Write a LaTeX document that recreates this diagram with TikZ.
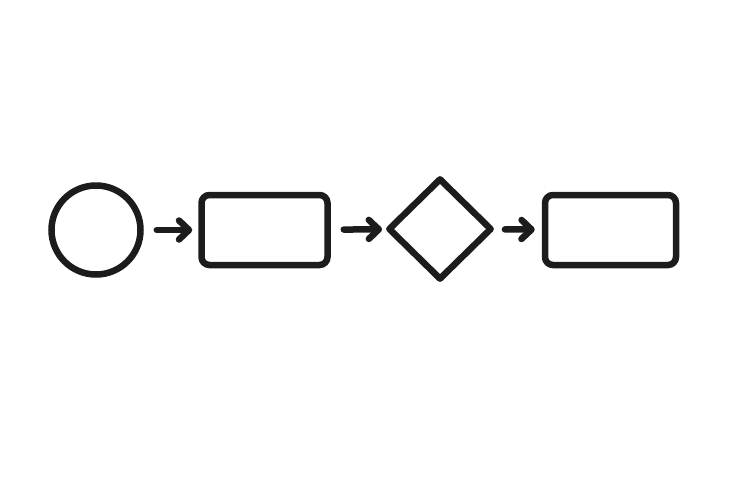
\documentclass[tikz,border=0pt]{standalone}
\usepackage{tikz}
\usetikzlibrary{arrows.meta,positioning,shapes.geometric}
\definecolor{flowink}{RGB}{28,28,28}

\tikzset{
  flowshape/.style={draw=flowink, line width=6.5pt, inner sep=0pt},
  startcircle/.style={flowshape, circle, minimum size=89pt},
  procbox/.style={flowshape, rectangle, rounded corners=8pt, minimum height=70pt},
  decisionbox/.style={flowshape, diamond, line join=round, minimum width=104pt, minimum height=102pt},
  flowarrow/.style={draw=flowink, line width=6.5pt, line cap=round,
    -{Straight Barb[length=10pt, width=19pt, round]}}
}

\begin{document}
\begin{tikzpicture}[x=1pt, y=-1pt]
\useasboundingbox (0,0) rectangle (735,490);
\node[startcircle] (start) at (96,230) {};
\node[procbox, minimum width=126pt] (stepone) at (264.5,230) {};
\node[decisionbox] (choice) at (440,229) {};
\node[procbox, minimum width=131pt] (steptwo) at (610.5,230) {};

\draw[flowarrow, shorten <=13pt, shorten >=6pt] (start) -- (stepone);
\draw[flowarrow, shorten <=13pt, shorten >=3pt] (stepone) -- (choice);
\draw[flowarrow, shorten <=10pt, shorten >=7pt] (choice) -- (steptwo);
\end{tikzpicture}
\end{document}
